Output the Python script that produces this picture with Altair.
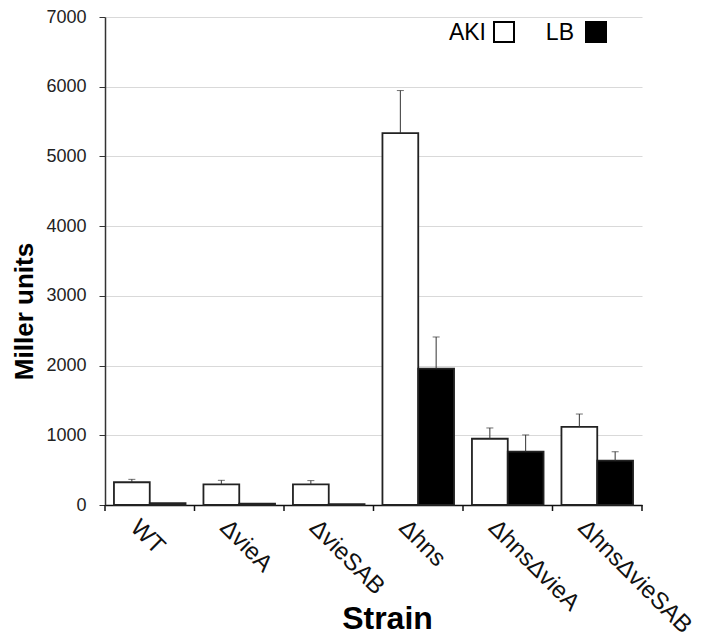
import altair as alt
import pandas as pd

strains = ["WT", "ΔvieA", "ΔvieSAB", "Δhns", "ΔhnsΔvieA", "ΔhnsΔvieSAB"]
media = ["AKI", "LB"]
aki_mean = [326, 297, 295, 5335, 950, 1120]
aki_sd = [42, 57, 55, 610, 155, 185]
lb_mean = [25, 20, 12, 1955, 765, 637]
lb_sd = [0, 0, 0, 455, 240, 128]
y_ticks = [0, 1000, 2000, 3000, 4000, 5000, 6000, 7000]

rows = []
for i, s in enumerate(strains):
    rows.append({"strain": s, "medium": "AKI", "value": aki_mean[i], "hi": aki_mean[i] + aki_sd[i], "sd": aki_sd[i]})
    rows.append({"strain": s, "medium": "LB", "value": lb_mean[i], "hi": lb_mean[i] + lb_sd[i], "sd": lb_sd[i]})
df = pd.DataFrame(rows)
err_df = df[df["sd"] > 0]

W, H = 537, 488
FONT = "Liberation Sans"
HALF_GAP = 0.1 * W / 6.0

xscale = alt.Scale(paddingInner=0.2, paddingOuter=0.1)
x_enc = alt.X(
    "strain:N", sort=strains, scale=xscale,
    axis=alt.Axis(
        title="Strain", labelAngle=45, labelAlign="left", labelBaseline="top",
        labelPadding=10, labelOffset=-7, labelFontSize=24, labelFont=FONT, labelColor="#111",
        ticks=False, domainColor="#111", domainWidth=1.5,
        titleFont=FONT, titleFontSize=32, titleFontWeight="bold", titleColor="#000",
        titleX=282, titleY=113, titleBaseline="middle", titleAlign="center",
    ),
)
y_enc = alt.Y(
    "value:Q", scale=alt.Scale(domain=[0, 7000], nice=False),
    axis=alt.Axis(
        title="Miller units", values=y_ticks, format="d",
        labelFontSize=18, labelFont=FONT, labelColor="#222", labelPadding=13,
        tickSize=6, tickColor="#333", domainColor="#333", domainWidth=1.5,
        gridColor="#d9d9d9", gridWidth=1,
        titleFont=FONT, titleFontSize=26, titleFontWeight="bold", titleColor="#000",
        titleX=-81, titleY=294, titleBaseline="middle", titleAlign="center", titleAngle=-90,
    ),
)
xoff = alt.XOffset("medium:N", sort=media)
fill_enc = alt.Fill("medium:N", scale=alt.Scale(domain=media, range=["white", "black"]), legend=None)

base = alt.Chart(df)
bars = base.mark_bar(stroke="#222", strokeWidth=1.8).encode(x=x_enc, xOffset=xoff, y=y_enc, fill=fill_enc)

err = alt.Chart(err_df)
whisk = err.mark_rule(color="#333", strokeWidth=1).encode(
    x=alt.X("strain:N", sort=strains), xOffset=xoff, y="hi:Q", y2="value:Q")
caps = err.mark_tick(color="#333", thickness=1, size=7).encode(
    x=alt.X("strain:N", sort=strains), xOffset=xoff, y="hi:Q")

xticks = alt.Chart(pd.DataFrame({"strain": strains})).mark_rule(
    color="#111", strokeWidth=1.5, xOffset=-HALF_GAP).encode(
    x=alt.X("strain:N", sort=strains, bandPosition=0),
    y=alt.value(H), y2=alt.value(H + 6))
xtick_end = alt.Chart(pd.DataFrame({"strain": strains[-1:]})).mark_rule(
    color="#111", strokeWidth=1.5, xOffset=HALF_GAP).encode(
    x=alt.X("strain:N", sort=strains, bandPosition=1),
    y=alt.value(H), y2=alt.value(H + 6))

leg_df = pd.DataFrame({"medium": media})
leg_layers = []
text_x = [381, 469]
sq_x = [399, 491]
for i, m in enumerate(media):
    d = alt.Chart(leg_df[leg_df["medium"] == m])
    leg_layers.append(d.mark_text(align="right", baseline="middle", font=FONT, fontSize=23, color="#000").encode(
        text="medium:N", x=alt.value(text_x[i]), y=alt.value(16)))
    leg_layers.append(d.mark_square(size=400, stroke="#000", strokeWidth=2, opacity=1,
                                    fill="white" if m == "AKI" else "black").encode(
        x=alt.value(sq_x[i]), y=alt.value(15)))

chart = alt.layer(bars, whisk, caps, xticks, xtick_end, *leg_layers).properties(
    width=W, height=H, padding={"left": 3, "top": 0, "right": 5, "bottom": 0}
).configure_view(stroke=None)

chart.save("out.html", embed_options={"renderer": "svg", "actions": False})
